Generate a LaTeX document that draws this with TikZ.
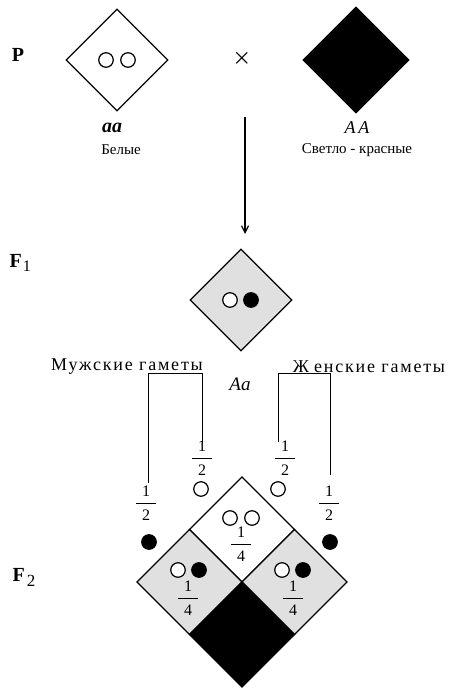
\documentclass[tikz,border=0pt]{standalone}
\usepackage{amsmath}
\usepackage{fontspec}
\setmainfont{Liberation Serif}
\usetikzlibrary{arrows.meta,shapes.geometric}
\newcommand\myfr[2]{\ensuremath{\genfrac{}{}{1.1pt}{0}{\hbox to 1.25em{\hss#1\hss}}{\hbox to 1.25em{\hss#2\hss}}}}
\begin{document}
\begin{tikzpicture}[x=1pt,y=-1pt,line width=1.2pt,
  txt/.style={font=\fontsize{15}{17}\selectfont, inner sep=0},
  gam/.style={font=\fontsize{18}{20}\selectfont\addfontfeature{LetterSpace=10}, inner sep=0},
  gen/.style={font=\fontsize{19}{21}\selectfont\itshape, inner sep=0},
  lab/.style={font=\fontsize{20}{22}\selectfont\bfseries, inner sep=0},
  frc/.style={font=\fontsize{16}{18}\selectfont, inner sep=0},
  dia/.style={diamond, aspect=1, draw, inner sep=0, minimum size=102pt},
  wc/.style={circle, draw, fill=white, inner sep=0, minimum size=14.5pt},
  bc/.style={circle, draw, fill=black, inner sep=0, minimum size=14.5pt},
  cellg/.style={fill=black!12, draw},
  cellw/.style={fill=white, draw},
  cellb/.style={fill=black, draw},
]
\useasboundingbox (0,0) rectangle (460,690);
% P row
\node[lab] (P) at (18,55) {P};
\node[dia, fill=white] (d1) at (117,60) {};
\node[wc] (d1a) at (106,60) {};
\node[wc] (d1b) at (128,60) {};
\node[txt, font=\fontsize{22}{24}\selectfont\boldmath] (x) at (242,58) {$\times$};
\node[dia, fill=black, minimum size=106pt] (d2) at (356,60) {};
\node[gen, font=\fontsize{20}{22}\selectfont\bfseries\itshape] (g1) at (112,128) {aa};
\node[txt] (t1) at (121,150) {Белые};
\node[gen, font=\fontsize{18}{20}\selectfont\itshape] (g2) at (357,128) {A\,A};
\node[txt] (t2) at (357,150) {Светло - красные};
\coordinate (arS) at (245,117);
\coordinate (arE) at (245,234);
\draw[-{Straight Barb[length=7pt,width=7pt]}] (arS) -- (arE);
% F1
\node[lab, anchor=base west] (F1) at (9,267) {F\kern1pt\raisebox{-4pt}{\fontsize{16}{18}\selectfont\mdseries 1}};
\node[dia, fill=black!12] (d3) at (241,300) {};
\node[wc] (d3a) at (230,300) {};
\node[bc] (d3b) at (251,300) {};
\node[gam] (m) at (127,367) {Мужские гаметы};
\node[gam] (f) at (369,367) {Ж\kern5ptенские гаметы};
\node[gen] (g3) at (240,384) {Aa};
% gametes
\node[frc] (fr1) at (146,503) {\myfr{1}{2}};
\node[frc] (fr2) at (202,458) {\myfr{1}{2}};
\node[frc] (fr3) at (285,458) {\myfr{1}{2}};
\node[frc] (fr4) at (329,503) {\myfr{1}{2}};
\node[bc] (c1) at (149,542) {};
\node[wc] (c2) at (201,489) {};
\node[wc] (c3) at (278,489) {};
\node[bc] (c4) at (330,542) {};
\coordinate (b1) at (148,483);
\coordinate (b1t) at (148,373);
\coordinate (b2t) at (202,373);
\coordinate (b2) at (202,443);
\coordinate (b3) at (278,442);
\coordinate (b3t) at (278,373);
\coordinate (b4t) at (330,373);
\coordinate (b4) at (330,475);
\draw[line width=1pt] (b1) -- (b1t) -- (b2t) -- (b2);
\draw[line width=1pt] (b3) -- (b3t) -- (b4t) -- (b4);
% Punnett
\coordinate (T) at (242,477);
\coordinate (L) at (137,582);
\coordinate (R) at (347,582);
\coordinate (B) at (242,687);
\coordinate (C) at (242,582);
\coordinate (TL) at (189.5,529.5);
\coordinate (TR) at (294.5,529.5);
\coordinate (BL) at (189.5,634.5);
\coordinate (BR) at (294.5,634.5);
\draw[cellw] (T) -- (TR) -- (C) -- (TL) -- cycle;
\draw[cellg] (TL) -- (C) -- (BL) -- (L) -- cycle;
\draw[cellg] (TR) -- (R) -- (BR) -- (C) -- cycle;
\draw[cellb] (C) -- (BR) -- (B) -- (BL) -- cycle;
\node[wc] (p1a) at (230,518) {};
\node[wc] (p1b) at (252,518) {};
\node[frc] (q1) at (241,544) {\myfr{1}{4}};
\node[wc] (p2a) at (178,570) {};
\node[bc] (p2b) at (199,570) {};
\node[frc] (q2) at (188,598) {\myfr{1}{4}};
\node[wc] (p3a) at (282,570) {};
\node[bc] (p3b) at (303,570) {};
\node[frc] (q3) at (293,598) {\myfr{1}{4}};
\node[lab, anchor=base west] (F2) at (12,581) {F\kern2pt\raisebox{-5pt}{\fontsize{17}{19}\selectfont\mdseries 2}};
\end{tikzpicture}
\end{document}
